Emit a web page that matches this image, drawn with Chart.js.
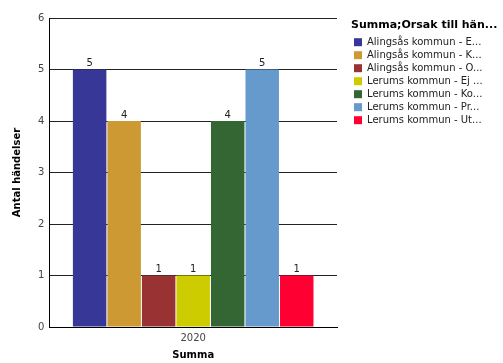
<!DOCTYPE html>
<html>
<head>
<meta charset="utf-8">
<script src="https://cdn.jsdelivr.net/npm/chart.js@4"></script>
<style>
  html, body { margin: 0; padding: 0; background: #fff; }
  #wrap { width: 503px; height: 363px; }
</style>
</head>
<body>
<div id="wrap"><canvas id="myChart" width="503" height="363"></canvas></div>
<script>
const years = ["2020"];
const seriesNames = [
  "Alingsås kommun - E...",
  "Alingsås kommun - K...",
  "Alingsås kommun - O...",
  "Lerums kommun - Ej ...",
  "Lerums kommun - Ko...",
  "Lerums kommun - Pr...",
  "Lerums kommun - Ut..."
];
const counts = [5, 4, 1, 1, 4, 5, 1];
const yTicks = [0, 1, 2, 3, 4, 5, 6];
const colors = ["#363796", "#CC9933", "#993333", "#CCCC00", "#336633", "#6699CC", "#FF0033"];

const FONT = "'DejaVu Sans', Verdana, sans-serif";

const datasets = seriesNames.map((name, i) => ({
  label: name,
  data: [counts[i]],
  backgroundColor: colors[i],
  borderWidth: 0,
  barPercentage: 0.97,
  categoryPercentage: 0.84,
}));

// value labels above each bar
const valueLabels = {
  id: "valueLabels",
  afterDatasetsDraw(chart) {
    const ctx = chart.ctx;
    ctx.save();
    ctx.font = "10px " + FONT;
    ctx.fillStyle = "#222";
    ctx.textAlign = "center";
    ctx.textBaseline = "bottom";
    chart.data.datasets.forEach((ds, i) => {
      chart.getDatasetMeta(i).data.forEach((bar, j) => {
        ctx.fillText(ds.data[j], bar.x, bar.y - 1);
      });
    });
    ctx.restore();
  }
};

// keep legend a fixed width so plot area ends where the original does,
// then nudge it a bit right/down
const legendWidth = {
  id: "legendWidth",
  afterInit(chart) {
    const lg = chart.legend;
    const fit = lg.fit.bind(lg);
    lg.fit = function () {
      fit();
      this.width = 166;
    };
  },
  afterLayout(chart) {
    chart.legend.left += 14;
    chart.legend.top += 2;
  }
};

const myChart = new Chart(document.getElementById("myChart"), {
  type: "bar",
  data: { labels: years, datasets: datasets },
  plugins: [legendWidth, valueLabels],
  options: {
    responsive: false,
    animation: false,
    layout: { padding: { top: 18, left: 11, bottom: 2, right: 0 } },
    plugins: {
      tooltip: { enabled: false },
      legend: {
        position: "right",
        align: "start",
        title: {
          display: true,
          text: "Summa;Orsak till hän...",
          position: "start",
          color: "#000",
          font: { family: FONT, size: 11, weight: "bold" },
          padding: { top: 0, bottom: 1 }
        },
        labels: {
          boxWidth: 8,
          boxHeight: 8,
          padding: 3,
          color: "#222",
          font: { family: FONT, size: 10 }
        }
      }
    },
    scales: {
      x: {
        grid: { display: false, drawTicks: false },
        border: { color: "#000" },
        ticks: { color: "#444", font: { family: FONT, size: 10 }, padding: 5 },
        title: {
          display: true,
          text: "Summa",
          color: "#000",
          font: { family: FONT, size: 10, weight: "bold" },
          padding: { top: 0, bottom: 0 }
        }
      },
      y: {
        min: 0,
        max: 6,
        afterBuildTicks(axis) { axis.ticks = yTicks.map(v => ({ value: v })); },
        grid: { color: "#222", drawTicks: false },
        border: { color: "#000" },
        ticks: { color: "#444", font: { family: FONT, size: 10 }, padding: 5 },
        title: {
          display: true,
          text: "Antal händelser",
          color: "#000",
          font: { family: FONT, size: 10, weight: "bold" },
          padding: { top: 0, bottom: 10 }
        }
      }
    }
  }
});
</script>
</body>
</html>
